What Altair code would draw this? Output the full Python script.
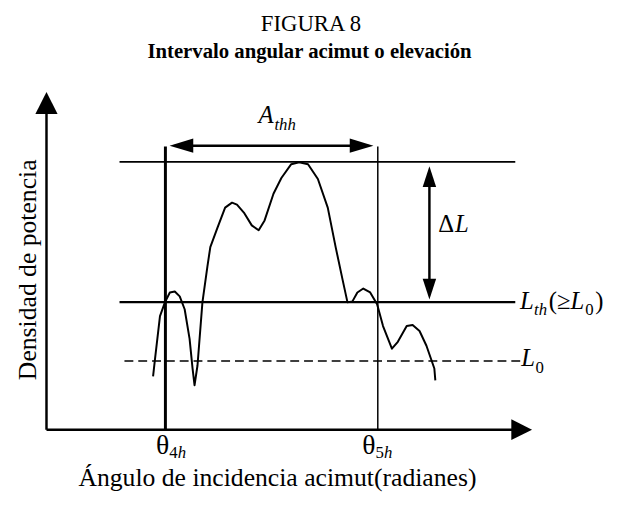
import altair as alt
import pandas as pd

# ---------------- data (arbitrary units: angle in rad-units, density in level-units)
angle = [1.08, 1.10, 1.15, 1.20, 1.25, 1.30, 1.35, 1.40, 1.45, 1.48, 1.50, 1.53, 1.58,
         1.63, 1.66, 1.73, 1.81, 1.88, 1.93, 2.00, 2.08, 2.15, 2.21, 2.30, 2.38, 2.48,
         2.56, 2.65, 2.75, 2.85, 2.93, 3.00, 3.05, 3.10, 3.15, 3.21, 3.28, 3.35, 3.41,
         3.50, 3.56, 3.65, 3.71, 3.78, 3.85, 3.93, 3.94]
density = [0.54, 0.72, 1.15, 1.29, 1.39, 1.40, 1.35, 1.22, 0.92, 0.62, 0.45, 0.65, 1.29,
           1.65, 1.85, 2.04, 2.25, 2.30, 2.28, 2.20, 2.07, 2.02, 2.12, 2.39, 2.55, 2.69,
           2.71, 2.69, 2.54, 2.25, 1.85, 1.52, 1.29, 1.30, 1.39, 1.43, 1.39, 1.27, 1.05,
           0.82, 0.89, 1.05, 1.06, 1.00, 0.85, 0.62, 0.50]

theta_4h = 1.205      # lower angular limit
theta_5h = 3.357      # upper angular limit
level_peak = 2.713    # maximum level
level_th = 1.293      # threshold level L_th
level_0 = 0.695       # noise level L_0

title_text = "FIGURA 8"
subtitle_text = "Intervalo angular acimut o elevación"
x_title = "Ángulo de incidencia acimut(radianes)"
y_title = "Densidad de potencia"

FONT = "Liberation Serif"
XS = alt.Scale(domain=[-0.39, 5.72], nice=False, zero=False)
YS = alt.Scale(domain=[-0.66, 4.24], nice=False, zero=False)


def X(f="x"):
    return alt.X(f"{f}:Q", scale=XS, axis=None)


def Y(f="y"):
    return alt.Y(f"{f}:Q", scale=YS, axis=None)


def seg(rows, **kw):
    df = pd.DataFrame(rows, columns=["x", "x2", "y", "y2"])
    return alt.Chart(df).mark_rule(color="black", **kw).encode(
        x=X(), x2="x2:Q", y=Y(), y2="y2:Q")


def head(rows, shape, size, **kw):
    df = pd.DataFrame(rows, columns=["x", "y"])
    return alt.Chart(df).mark_point(shape=shape, size=size, filled=True, color="black",
                                    opacity=1, strokeWidth=0, **kw).encode(x=X(), y=Y())


def text(rows, size, style="normal", weight="normal", align="left", angle=0):
    df = pd.DataFrame(rows, columns=["x", "y", "t"])
    return alt.Chart(df).mark_text(font=FONT, fontSize=size, fontStyle=style,
                                   fontWeight=weight, align=align, baseline="alphabetic",
                                   angle=angle, color="black").encode(
        x=X(), y=Y(), text="t:N")


curve_df = pd.DataFrame({"x": angle, "y": density, "i": range(len(angle))})
curve = alt.Chart(curve_df).mark_line(color="black", strokeWidth=2, strokeJoin="round").encode(
    x=X(), y=Y(), order="i:Q")

y_top = 3.25
x_end = 4.75
layers = [
    # axes
    seg([[0, 0, 0, y_top]], strokeWidth=2.5),
    seg([[0, x_end, 0, 0]], strokeWidth=2.5),
    head([[0, 3.31]], "M0,-1L1,1L-1,1Z", 506),
    head([[4.815, 0]], "M1,0L-1,-1L-1,1Z", 441),
    # vertical limits
    seg([[theta_4h, theta_4h, 0, 2.87]], strokeWidth=3),
    seg([[theta_5h, theta_5h, 0, 2.87]], strokeWidth=1.5),
    # horizontal levels
    seg([[0.74, 4.75, level_peak, level_peak]], strokeWidth=1.6),
    seg([[0.74, 4.75, level_th, level_th]], strokeWidth=2.2),
    seg([[0.79, 4.80, level_0, level_0]], strokeWidth=1.6, strokeDash=[9, 5]),
    # A_thh arrow
    seg([[1.30, 3.26, 2.877, 2.877]], strokeWidth=2.5),
    head([[1.367, 2.877]], "M-1,0L1,-0.6L1,0.6Z", 576),
    head([[3.193, 2.877]], "M1,0L-1,-0.6L-1,0.6Z", 576),
    # Delta L arrow
    seg([[3.88, 3.88, 1.45, 2.55]], strokeWidth=2.5),
    head([[3.88, 2.565]], "M0,-1L0.65,1L-0.65,1Z", 441),
    head([[3.88, 1.425]], "M0,1L0.65,-1L-0.65,-1Z", 441),
    curve,
    # titles
    text([[2.68, 4.04, title_text]], 23, align="center"),
    text([[2.665, 3.77, subtitle_text]], 21, weight="bold", align="center"),
    text([[2.34, -0.573, x_title]], 26, align="center"),
    text([[-0.11, 1.62, y_title]], 26, align="center", angle=270),
    # theta symbols
    text([[1.11, -0.247, "θ"], [3.20, -0.247, "θ"]], 28),
    # labels (upright)
    text([[3.97, 2.003, "Δ"], [5.09, 1.22, "(≥"], [5.56, 1.22, ")"]], 25),
    # labels (italic, full size)
    text([[2.147, 3.103, "A"], [4.797, 1.22, "L"], [5.31, 1.22, "L"],
          [4.81, 0.64, "L"], [4.14, 2.003, "L"]], 25, style="italic"),
    # subscripts upright
    text([[1.245, -0.29, "4"], [3.335, -0.29, "5"], [5.46, 1.16, "0"],
          [4.955, 0.57, "0"]], 17),
    # subscripts italic
    text([[1.33, -0.29, "h"], [3.42, -0.29, "h"], [2.31, 3.037, "thh"],
          [4.94, 1.16, "th"]], 17, style="italic"),
]

chart = alt.layer(*layers).properties(
    width=611, height=490,
    autosize=alt.AutoSizeParams(type="none"),
    padding=0,
    background="white",
).configure_view(stroke=None)

chart.save("out.html", embed_options={"renderer": "svg", "actions": False})
